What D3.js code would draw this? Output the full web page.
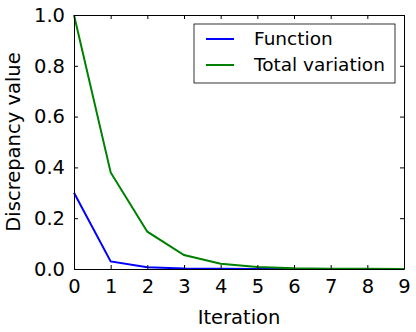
<!DOCTYPE html>
<html>
<head>
<meta charset="utf-8">
<script src="https://cdn.jsdelivr.net/npm/d3@7"></script>
<style>
  body { margin: 0; background: #fff; }
  svg { display: block; font-family: "DejaVu Sans", sans-serif; }
</style>
</head>
<body>
<div id="chart"></div>
<script>
// iterations and the two discrepancy series
const iterations = [0, 1, 2, 3, 4, 5, 6, 7, 8, 9];
const functionValues = [0.30, 0.03, 0.007, 0.002, 0.0007, 0.0002, 0.0001, 0.00005, 0.00002, 0.00001];
const tvValues = [1.0, 0.38, 0.147, 0.055, 0.021, 0.008, 0.003, 0.0012, 0.0005, 0.0002];
const yTicks = [0, 0.2, 0.4, 0.6, 0.8, 1.0];
const seriesNames = ['Function', 'Total variation'];
const seriesColors = ['#0000ff', '#008000'];

const width = 416, height = 332;
const margin = {top: 15, right: 12, bottom: 63, left: 74};

const x = d3.scaleLinear().domain([0, 9]).range([margin.left, width - margin.right]);
const y = d3.scaleLinear().domain([0, 1]).range([height - margin.bottom, margin.top]);

const svg = d3.select('#chart').append('svg')
  .attr('width', width)
  .attr('height', height);

// lines
const line = d3.line()
  .x((d, i) => x(iterations[i]))
  .y(d => y(d));

[functionValues, tvValues].forEach((vals, k) => {
  svg.append('path')
    .datum(vals)
    .attr('fill', 'none')
    .attr('stroke', seriesColors[k])
    .attr('stroke-width', 2)
    .attr('d', line);
});

// axes, ticks pointing inward on all four sides
const fs = '19.5px';
const axBottom = svg.append('g')
  .attr('transform', `translate(0,${y(0)})`)
  .call(d3.axisBottom(x).tickValues(iterations).tickSizeInner(-4).tickSizeOuter(0).tickPadding(10).tickFormat(d3.format('d')));
const axTop = svg.append('g')
  .attr('transform', `translate(0,${y(1)})`)
  .call(d3.axisTop(x).tickValues(iterations).tickSizeInner(-4).tickSizeOuter(0).tickFormat(''));
const axLeft = svg.append('g')
  .attr('transform', `translate(${x(0)},0)`)
  .call(d3.axisLeft(y).tickValues(yTicks).tickSizeInner(-4).tickSizeOuter(0).tickPadding(9).tickFormat(d3.format('.1f')));
const axRight = svg.append('g')
  .attr('transform', `translate(${x(9)},0)`)
  .call(d3.axisRight(y).tickValues(yTicks).tickSizeInner(-4).tickSizeOuter(0).tickFormat(''));

[axBottom, axTop, axLeft, axRight].forEach(g => {
  g.select('.domain').attr('stroke', '#000').attr('stroke-width', 1);
  g.selectAll('.tick line').attr('stroke', '#000');
  g.selectAll('text').attr('fill', '#000').style('font-size', fs).style('font-family', '"DejaVu Sans", sans-serif');
});

// axis labels
svg.append('text')
  .attr('x', (x(0) + x(9)) / 2)
  .attr('y', 324)
  .attr('text-anchor', 'middle')
  .style('font-size', fs)
  .text('Iteration');

svg.append('text')
  .attr('transform', `translate(20,${(y(0) + y(1)) / 2}) rotate(-90)`)
  .attr('text-anchor', 'middle')
  .style('font-size', fs)
  .text('Discrepancy value');

// legend
const lg = svg.append('g').attr('transform', 'translate(194,24)');
lg.append('rect')
  .attr('width', 201)
  .attr('height', 59)
  .attr('fill', '#fff')
  .attr('stroke', '#000')
  .attr('stroke-width', 0.8);

seriesNames.forEach((name, i) => {
  const yy = 15 + i * 26;
  lg.append('line')
    .attr('x1', 12).attr('x2', 40)
    .attr('y1', yy).attr('y2', yy)
    .attr('stroke', seriesColors[i])
    .attr('stroke-width', 2);
  lg.append('text')
    .attr('x', 60)
    .attr('y', yy)
    .attr('dy', '0.35em')
    .style('font-size', '18.5px')
    .text(name);
});
</script>
</body>
</html>
